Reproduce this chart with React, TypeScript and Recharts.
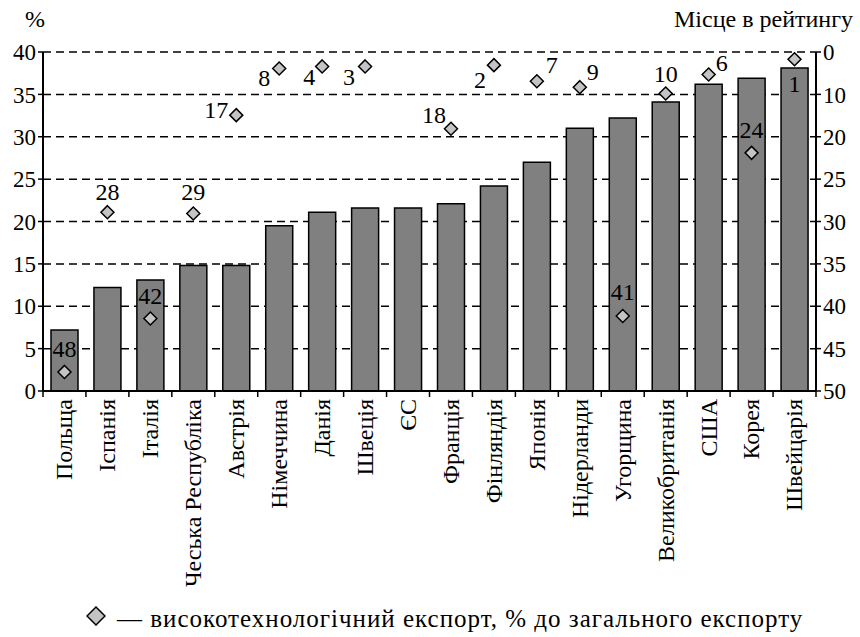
import React from 'react';
import { ComposedChart, Bar, Line, XAxis, YAxis, CartesianGrid } from 'recharts';

const countries = [
  'Польща', 'Іспанія', 'Італія', 'Чеська Республіка', 'Австрія', 'Німеччина',
  'Данія', 'Швеція', 'ЄС', 'Франція', 'Фінляндія', 'Японія',
  'Нідерланди', 'Угорщина', 'Великобританія', 'США', 'Корея', 'Швейцарія',
];
const exportShare = [7.2, 12.2, 13.1, 14.8, 14.8, 19.5, 21.1, 21.6, 21.6, 22.1, 24.2, 27.0, 31.0, 32.2, 34.1, 36.2, 36.9, 38.1];
const rankLabels = [48, 28, 42, 29, 17, 8, 4, 3, null, 18, 2, 7, 9, 41, 10, 6, 24, 1];
// where each marker sits on the right scale, counted in grid steps (0 = top line, 8 = bottom line)
const rankLevel = [7.55, 3.78, 6.29, 3.81, 1.49, 0.39, 0.34, 0.34, null, 1.81, 0.31, 0.69, 0.83, 6.23, 0.98, 0.53, 2.38, 0.17];
const leftTicks = [0, 5, 10, 15, 20, 25, 30, 35, 40];
const rightTickLabels = ['0', '10', '20', '25', '30', '35', '40', '45', '50'];

const FONT = '"Liberation Serif"';

// label offset from the marker: dx, baseline dy, anchor
const labelPlace: Record<string, [number, number, 'start' | 'middle' | 'end']> = {
  'Польща': [0, -15, 'middle'],
  'Іспанія': [0, -12, 'middle'],
  'Італія': [0, -15, 'middle'],
  'Чеська Республіка': [0, -13, 'middle'],
  'Австрія': [-8, 3, 'end'],
  'Німеччина': [-9, 17, 'end'],
  'Данія': [-7, 19, 'end'],
  'Швеція': [-10, 19, 'end'],
  'Франція': [-5, -6, 'end'],
  'Фінляндія': [-8, 23, 'end'],
  'Японія': [9, -8, 'start'],
  'Нідерланди': [7, -7, 'start'],
  'Угорщина': [0, -16, 'middle'],
  'Великобританія': [0, -12, 'middle'],
  'США': [7, -3, 'start'],
  'Корея': [0, -15, 'middle'],
  'Швейцарія': [0, 33, 'middle'],
};

const data = countries.map((name, i) => ({
  name,
  share: exportShare[i],
  level: rankLevel[i],
  rank: rankLabels[i],
}));

const Diamond = ({ cx, cy, payload, index }: any) => {
  if (cx == null || cy == null || payload.level == null) return <g key={`d${index}`} />;
  const [dx, dy, anchor] = labelPlace[payload.name] || [0, -12, 'middle'];
  const s = 6.5;
  return (
    <g key={`d${index}`}>
      <polygon
        points={`${cx},${cy - s} ${cx + s},${cy} ${cx},${cy + s} ${cx - s},${cy}`}
        fill="#c4c4c4"
        stroke="#000"
        strokeWidth={1.5}
      />
      <text x={cx + dx} y={cy + dy} textAnchor={anchor} fontSize={24} fontFamily={FONT} fill="#000">
        {payload.rank}
      </text>
    </g>
  );
};

const CountryTick = ({ x, y, payload, index }: any) => {
  const half = 773 / countries.length / 2;
  return (
    <g>
      <line x1={x - half} y1={y} x2={x - half} y2={y + 6} stroke="#000" strokeWidth={1.5} />
      {index === countries.length - 1 && (
        <line x1={x + half} y1={y} x2={x + half} y2={y + 6} stroke="#000" strokeWidth={1.5} />
      )}
      <text
        x={x}
        y={y + 8}
        dy="0.33em"
        textAnchor="end"
        transform={`rotate(-90, ${x}, ${y + 8})`}
        fontSize={24}
        fontFamily={FONT}
        fill="#000"
      >
        {payload.value}
      </text>
    </g>
  );
};

const tickStyle = { fontSize: 23, fontFamily: FONT, fill: '#000' };

export default function App() {
  return (
    <div style={{ position: 'absolute', left: 0, top: 0, width: 860, height: 637, background: '#fff', fontFamily: FONT }}>
      <ComposedChart width={860} height={637} data={data} margin={{ top: 52, right: 0, left: 8, bottom: 46 }}>
        <CartesianGrid yAxisId="left" vertical={false} stroke="#000" strokeWidth={1.5} strokeDasharray="8 5" />
        <XAxis
          dataKey="name"
          interval={0}
          height={200}
          tickSize={0}
          tickMargin={0}
          tickLine={false}
          axisLine={{ stroke: '#000', strokeWidth: 2 }}
          tick={<CountryTick />}
        />
        <YAxis
          yAxisId="left"
          width={35}
          domain={[0, 40]}
          ticks={leftTicks}
          interval={0}
          tickSize={5}
          tickMargin={2}
          tick={tickStyle}
          tickLine={{ stroke: '#000', strokeWidth: 1.5 }}
          axisLine={{ stroke: '#000', strokeWidth: 2 }}
        />
        <YAxis
          yAxisId="right"
          orientation="right"
          width={44}
          domain={[0, 8]}
          reversed
          ticks={[0, 1, 2, 3, 4, 5, 6, 7, 8]}
          interval={0}
          tickFormatter={(v: number) => rightTickLabels[v]}
          tickSize={5}
          tickMargin={2}
          tick={tickStyle}
          tickLine={{ stroke: '#000', strokeWidth: 1.5 }}
          axisLine={{ stroke: '#000', strokeWidth: 2 }}
        />
        <Bar yAxisId="left" dataKey="share" barSize={27} fill="#808080" stroke="#000" strokeWidth={1.5} isAnimationActive={false} />
        <Line
          yAxisId="right"
          dataKey="level"
          stroke="none"
          dot={<Diamond />}
          activeDot={false}
          connectNulls={false}
          isAnimationActive={false}
        />
      </ComposedChart>
      <div style={{ position: 'absolute', left: 25, top: 6, fontSize: 24, lineHeight: '27px' }}>%</div>
      <div style={{ position: 'absolute', right: 7, top: 6, fontSize: 24, lineHeight: '27px' }}>Місце в рейтингу</div>
      <svg width={20} height={20} style={{ position: 'absolute', left: 86, top: 606 }}>
        <polygon points="10,1 19,10 10,19 1,10" fill="#c4c4c4" stroke="#000" strokeWidth={1.5} />
      </svg>
      <div style={{ position: 'absolute', left: 117, top: 605, fontSize: 25, letterSpacing: 1, lineHeight: '28px', whiteSpace: 'nowrap' }}>
        — високотехнологічний експорт, % до загального експорту
      </div>
    </div>
  );
}
